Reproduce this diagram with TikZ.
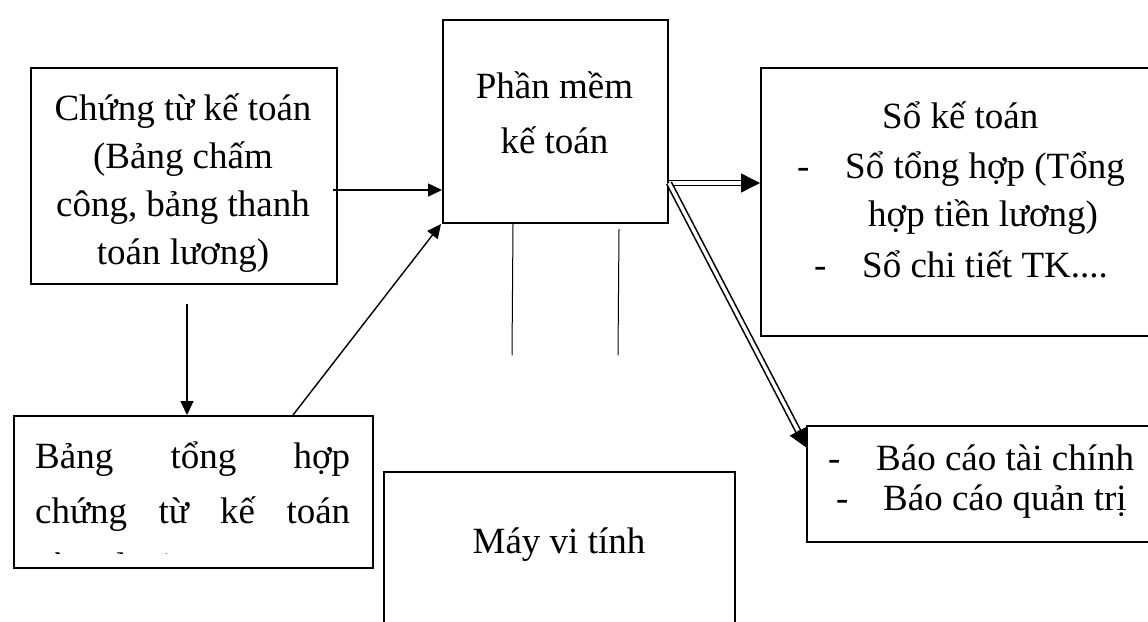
\documentclass[tikz,border=0pt]{standalone}
\usepackage{fontspec}
\setmainfont{Liberation Serif}
\usetikzlibrary{arrows.meta,calc}
\newcommand\diagfont{\fontsize{37}{48}\selectfont}
\newcommand\widefont{\fontsize{37}{55}\selectfont}
\begin{document}
\begin{tikzpicture}[x=1pt,y=-1pt,
  box/.style={draw, line width=2pt, inner sep=0pt, anchor=north west},
  lbl/.style={inner sep=0pt, font=\diagfont},
  arr/.style={line width=1.4pt, -{Triangle[length=14pt,width=13pt]}},
  dbl/.style={line width=1.6pt, double, double distance=3.4pt},
  dbltip/.style={line width=1.4pt, -{Triangle[length=19pt,width=19pt]}},
  guide/.style={line width=1pt}]
\useasboundingbox (0,0) rectangle (1148,621);

% boxes
\node[box, minimum width=306pt, minimum height=216pt] (A) at (30,67) {};
\node[box, minimum width=225pt, minimum height=203pt] (P) at (442,19) {};
\node[box, minimum width=359pt, minimum height=152pt] (B) at (13,415) {};
\node[box, minimum width=420pt, minimum height=268pt] (S) at (760,67) {};
\node[box, minimum width=400pt, minimum height=116pt] (R) at (806,425) {};
\node[box, minimum width=351pt, minimum height=200pt] (M) at (383,471) {};

% texts (the two left boxes cut their last line off)
\begin{scope}
  \clip (A.north west) rectangle (336,271);
  \node[lbl, anchor=base] (Atext) at (183,120)
    {\begin{tabular}[t]{@{}c@{}}Chứng từ kế toán\\(Bảng chấm\\công, bảng thanh\\toán lương)\end{tabular}};
\end{scope}
\begin{scope}
  \clip (B.north west) rectangle (372,553);
  \node[lbl, anchor=base west] (Btext) at (35,468)
    {\parbox[t]{315pt}{\widefont Bảng tổng hợp\linebreak chứng từ kế toán\linebreak cùng loại}};
\end{scope}
\node[lbl, anchor=base, font=\widefont] (Ptext) at (554.5,98)
  {\begin{tabular}[t]{@{}c@{}}Phần mềm\\kế toán\end{tabular}};
\node[lbl, anchor=base west] (S1) at (882,128) {Sổ kế toán};
\node[lbl, anchor=base west] (S2d) at (797,178) {-};
\node[lbl, anchor=base west] (S2) at (845,178) {Sổ tổng hợp (Tổng};
\node[lbl, anchor=base west] (S3) at (868,226) {hợp tiền lương)};
\node[lbl, anchor=base west] (S4d) at (814,277) {-};
\node[lbl, anchor=base west] (S4) at (862,277) {Sổ chi tiết TK....};
\node[lbl, anchor=base west] (R1d) at (828,470) {-};
\node[lbl, anchor=base west] (R1) at (876,470) {Báo cáo tài chính};
\node[lbl, anchor=base west] (R2d) at (836,510) {-};
\node[lbl, anchor=base west] (R2) at (883,510) {Báo cáo quản trị};
\node[lbl, anchor=base] (Mtext) at (559,553) {Máy vi tính};

% connectors
\draw[arr] ([xshift=-5pt,yshift=-14pt]A.east) -- ([yshift=-68.5pt]P.west);
\draw[arr] ([xshift=3pt,yshift=-19pt]A.south) -- ([xshift=-6.5pt]B.north);
\draw[arr] ([xshift=99.5pt]B.north) -- ([xshift=-1pt]P.south west);

\coordinate (pOut) at ([yshift=-61.5pt]P.east);
\coordinate (sIn) at ([yshift=-116pt]S.north west);
\coordinate (rIn) at ([xshift=1pt,yshift=-23pt]R.north west);
\draw[dbl, shorten >=17pt] (pOut) -- (sIn);
\draw[dbltip] ($(sIn)!19.5pt!(pOut)$) -- (sIn);
\draw[dbl, shorten >=17pt] (pOut) -- (rIn);
\draw[dbltip] ($(rIn)!19.5pt!(pOut)$) -- (rIn);

% two plain lines hanging under the software box
\coordinate (g1) at (512,355);
\coordinate (g2) at (618,355);
\draw[guide] ([xshift=-42.5pt]P.south) -- (g1);
\draw[guide] ([xshift=63.5pt,yshift=-5pt]P.south) -- (g2);
\end{tikzpicture}
\end{document}
